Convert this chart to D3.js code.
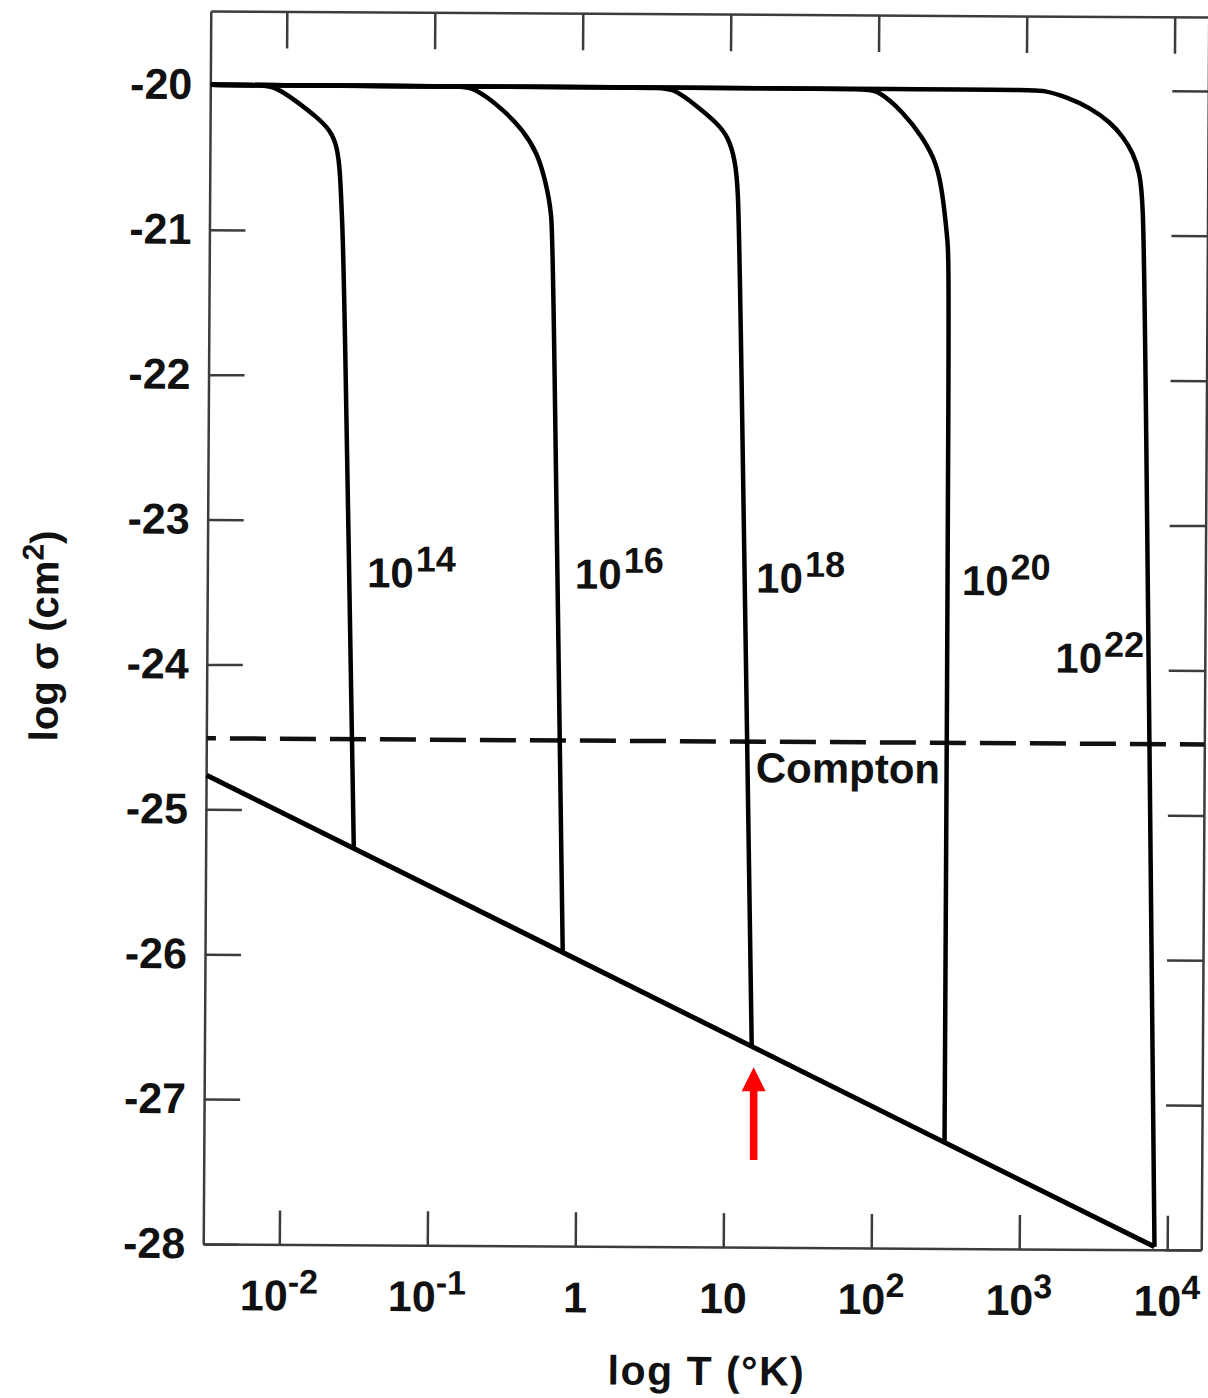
<!DOCTYPE html>
<html>
<head>
<meta charset="utf-8">
<script src="https://cdn.jsdelivr.net/npm/d3@7"></script>
<style>
  html, body { margin: 0; padding: 0; background: #fff; }
  svg { display: block; }
</style>
</head>
<body>
<script>
// Cross-section (log sigma, cm^2) against temperature (log T, K) for a set of densities.

// Axis ticks
const xTicks = [-2, -1, 0, 1, 2, 3, 4];
const xTickBase = ["10", "10", "1", "10", "10", "10", "10"];
const xTickExp = ["-2", "-1", "", "", "2", "3", "4"];
const yTicks = [-28, -27, -26, -25, -24, -23, -22, -21, -20];
const yTickLabels = ["-28", "-27", "-26", "-25", "-24", "-23", "-22", "-21", "-20"];

// Density curves: exponent of the density, then (log T, log sigma) pairs
const densityExp = ["14", "16", "18", "20", "22"];
const curveLogT = [
  [-2.51, -2.20, -2.09, -1.93, -1.79, -1.70, -1.655, -1.634, -1.618, -1.603, -1.513],
  [-2.51, -0.85, -0.74, -0.53, -0.40, -0.30, -0.248, -0.199, -0.190, -0.097],
  [-2.51, 0.50, 0.61, 0.78, 0.91, 0.99, 1.035, 1.056, 1.073, 1.184],
  [-2.51, 1.88, 1.99, 2.17, 2.30, 2.40, 2.442, 2.476, 2.488, 2.491],
  [-2.51, 3.00, 3.11, 3.28, 3.43, 3.57, 3.655, 3.724, 3.772, 3.793, 3.811, 3.914]
];
const curveLogSigma = [
  [-20, -20, -20, -20.11, -20.22, -20.31, -20.42, -20.58, -20.93, -21.25, -25.26],
  [-20, -20, -20, -20.16, -20.30, -20.46, -20.64, -20.87, -21.24, -25.97],
  [-20, -20, -20, -20.13, -20.24, -20.34, -20.50, -20.68, -21.23, -26.61],
  [-20, -20, -20, -20.16, -20.33, -20.51, -20.74, -21.06, -21.23, -27.27],
  [-20, -20, -20, -20.05, -20.12, -20.22, -20.32, -20.43, -20.57, -20.78, -21.42, -27.98]
];

// Lower bound (sigma ~ T^-1/2) and the Compton level
const lowerLogT = [-2.51, 3.914];
const lowerLogSigma = [-24.765, -27.98];
const comptonLogT = [-2.51, 4.23];
const comptonLogSigma = [-24.51, -24.51];

// Curve label anchors (log T, log sigma)
const labelLogT = [-1.435, -0.03, 1.195, 2.585, 3.22];
const labelLogSigma = [-23.46, -23.46, -23.48, -23.49, -24.02];
const comptonLabel = "Compton";
const comptonLabelLogT = 1.20;
const comptonLabelLogSigma = -24.79;

// Marker arrow pointing at the 10^18 curve's lower end
const arrowLogT = 1.18;
const arrowFromLogSigma = -27.40;
const arrowToLogSigma = -26.76;

const W = 1208, H = 1398;
const frame = { left: 207, right: 1205, top: 14, bottom: 1247 };
const FONT = "'Liberation Sans', Arial, Helvetica, sans-serif";

const x = d3.scaleLinear().domain([-2.514, 4.23]).range([frame.left, frame.right]);
const y = d3.scaleLinear().domain([-28, -19.49]).range([frame.bottom, frame.top]);

const svg = d3.select("body").append("svg")
  .attr("width", W).attr("height", H)
  .attr("viewBox", `0 0 ${W} ${H}`);

svg.append("rect").attr("width", W).attr("height", H).attr("fill", "#fff");

// the printed plot sits at a slight tilt
const plot = svg.append("g")
  .attr("transform", `rotate(0.35, ${(frame.left + frame.right) / 2}, ${(frame.top + frame.bottom) / 2})`);

const styleAxis = g => {
  g.select(".domain").attr("stroke", "#3c3c3c").attr("stroke-width", 2.5);
  g.selectAll(".tick line").attr("stroke", "#3c3c3c").attr("stroke-width", 2.5);
};

// frame with inward ticks on all four sides
plot.append("g")
  .attr("transform", `translate(0,${frame.bottom})`)
  .call(d3.axisBottom(x).tickValues(xTicks).tickSizeInner(-34).tickSizeOuter(0).tickFormat(""))
  .call(styleAxis);
plot.append("g")
  .attr("transform", `translate(0,${frame.top})`)
  .call(d3.axisTop(x).tickValues(xTicks).tickSizeInner(-37).tickSizeOuter(0).tickFormat(""))
  .call(styleAxis);
plot.append("g")
  .attr("transform", `translate(${frame.right},0)`)
  .call(d3.axisRight(y).tickValues(yTicks).tickSizeInner(-36).tickSizeOuter(0).tickFormat(""))
  .call(styleAxis);
const yAxis = plot.append("g")
  .attr("transform", `translate(${frame.left},0)`)
  .call(d3.axisLeft(y).tickValues(yTicks).tickSizeInner(-36).tickSizeOuter(0)
    .tickPadding(18).tickFormat((d, i) => yTickLabels[i]))
  .call(styleAxis);
yAxis.selectAll(".tick text")
  .attr("font-family", FONT).attr("font-size", 43).attr("font-weight", "bold")
  .attr("fill", "#111");

// x tick labels with superscript exponents
const xLab = plot.append("g").selectAll("text").data(xTicks).join("text")
  .attr("x", d => x(d)).attr("y", frame.bottom + 66)
  .attr("text-anchor", "middle")
  .attr("font-family", FONT).attr("font-weight", "bold").attr("fill", "#111");
xLab.append("tspan").attr("font-size", 43).text((d, i) => xTickBase[i]);
xLab.filter((d, i) => xTickExp[i] !== "")
  .append("tspan").attr("font-size", 34).attr("dy", -17).text(d => xTickExp[xTicks.indexOf(d)]);

// axis titles
plot.append("text")
  .attr("x", 711).attr("y", 1385)
  .attr("text-anchor", "middle")
  .attr("font-family", FONT).attr("font-size", 41).attr("font-weight", "bold").attr("fill", "#111")
  .attr("letter-spacing", 1.5)
  .text("log T (°K)");

const yTitle = plot.append("text")
  .attr("transform", "translate(58,640) rotate(-90)")
  .attr("text-anchor", "middle")
  .attr("font-family", FONT).attr("font-size", 40).attr("font-weight", "bold").attr("fill", "#111");
yTitle.append("tspan").text("log σ (cm");
yTitle.append("tspan").attr("font-size", 30).attr("dy", -15).text("2");
yTitle.append("tspan").attr("dy", 15).text(")");

// Compton level (dashed)
plot.append("path")
  .datum(comptonLogT.map((t, i) => [t, comptonLogSigma[i]]))
  .attr("d", d3.line().x(d => x(d[0])).y(d => y(d[1])))
  .attr("fill", "none").attr("stroke", "#111").attr("stroke-width", 4.5)
  .attr("stroke-dasharray", "36 14").attr("stroke-dashoffset", 27);

// lower bound
plot.append("path")
  .datum(lowerLogT.map((t, i) => [t, lowerLogSigma[i]]))
  .attr("d", d3.line().x(d => x(d[0])).y(d => y(d[1])))
  .attr("fill", "none").attr("stroke", "#000").attr("stroke-width", 5);

// density curves: flat plateau, rounded knee, steep fall to the lower bound
const curveLine = d3.line().x(d => x(d[0])).y(d => y(d[1])).curve(d3.curveBasis);
plot.append("g").selectAll("path")
  .data(curveLogT.map((ts, k) => ts.map((t, i) => [t, curveLogSigma[k][i]])))
  .join("path")
  .attr("d", curveLine)
  .attr("fill", "none").attr("stroke", "#000").attr("stroke-width", 4.5)
  .attr("stroke-linejoin", "round").attr("stroke-linecap", "butt");

// density labels
const lab = plot.append("g").selectAll("text").data(densityExp).join("text")
  .attr("x", (d, i) => x(labelLogT[i])).attr("y", (d, i) => y(labelLogSigma[i]))
  .attr("font-family", FONT).attr("font-weight", "bold").attr("fill", "#111");
lab.append("tspan").attr("font-size", 42).text("10");
lab.append("tspan").attr("font-size", 36).attr("dy", -16).attr("dx", 2).text(d => d);

plot.append("text")
  .attr("x", x(comptonLabelLogT)).attr("y", y(comptonLabelLogSigma))
  .attr("font-family", FONT).attr("font-size", 42).attr("font-weight", "bold").attr("fill", "#111")
  .text(comptonLabel);

// red marker arrow
const ax = x(arrowLogT), tipY = y(arrowToLogSigma), tailY = y(arrowFromLogSigma);
const headLen = 24, headHalf = 12, shaftHalf = 3.8;
const arrow = d3.path();
arrow.moveTo(ax, tipY);
arrow.lineTo(ax + headHalf, tipY + headLen);
arrow.lineTo(ax + shaftHalf, tipY + headLen);
arrow.lineTo(ax + shaftHalf, tailY);
arrow.lineTo(ax - shaftHalf, tailY);
arrow.lineTo(ax - shaftHalf, tipY + headLen);
arrow.lineTo(ax - headHalf, tipY + headLen);
arrow.closePath();
svg.append("path").attr("d", arrow.toString()).attr("fill", "#ff0000");
</script>
</body>
</html>
